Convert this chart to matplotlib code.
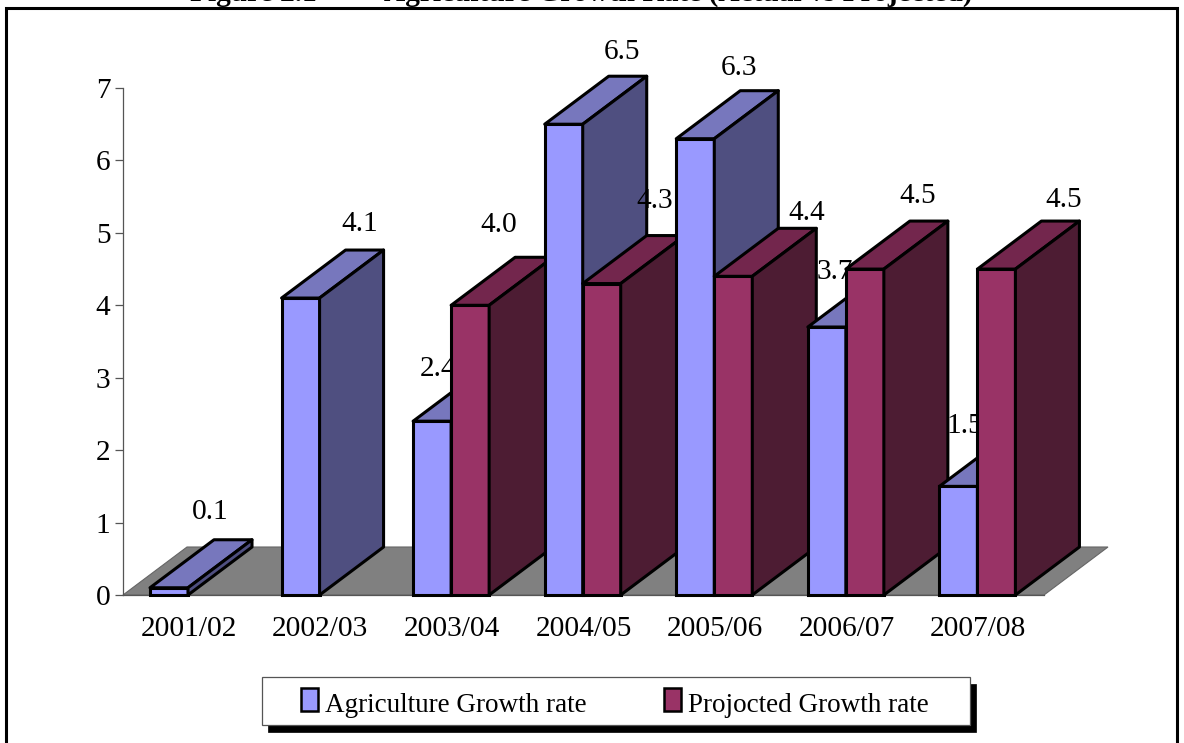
import matplotlib
matplotlib.use("Agg")
import matplotlib.pyplot as plt
from matplotlib.patches import Rectangle

# values
years = ["2001/02", "2002/03", "2003/04", "2004/05", "2005/06", "2006/07", "2007/08"]
agri = [0.1, 4.1, 2.4, 6.5, 6.3, 3.7, 1.5]
proj = [None, None, 4.0, 4.3, 4.4, 4.5, 4.5]

# label nudges from the bar's front top-left corner, in pixels
agri_nudge = [(60, 76), (78, 74), (25, 52), (77, 72), (63, 71), (27, 55), (25, 60)]
proj_nudge = [None, None, (48, 80), (72, 83), (92, 63), (72, 73), (86, 69)]

W, H = 1184, 743
serif = "Liberation Serif"
plt.rcParams['font.family'] = serif

blue = ("#9999FF", "#7777BD", "#4F4F80")
red = ("#993366", "#73264D", "#4D1C33")
fs = 21.2

fig = plt.figure(figsize=(W/100, H/100), dpi=100)
ax = fig.add_axes([123/W, (H-595)/H, 921/W, 507/H])
ax.set_xlim(0, 7)
ax.set_ylim(0, 7)

# pixels per data unit
px = 921/7
py = 507/7
dx = 64/px
dy = 48/py
bar_w = 38/px
first = 27/px


def draw_bar(x, v, cols, z):
    ax.bar(x, v, bar_w, align='edge', color=cols[0], edgecolor='black', linewidth=2.2, zorder=z, clip_on=False)
    ax.fill([x, x+dx, x+dx+bar_w, x+bar_w], [v, v+dy, v+dy, v], fc=cols[1], ec='black', lw=2.2,
            zorder=z, clip_on=False, joinstyle='round')
    ax.fill([x+bar_w, x+bar_w+dx, x+bar_w+dx, x+bar_w], [0, dy, v+dy, v], fc=cols[2], ec='black', lw=2.2,
            zorder=z, clip_on=False, joinstyle='round')


def draw_label(x, v, nudge, z):
    ax.text(x+nudge[0]/px, v+nudge[1]/py, "%.1f" % v, ha='center', va='center', fontsize=fs, zorder=z, clip_on=False)


# floor
ax.fill([0, dx, 7+dx, 7], [0, dy, dy, 0], fc="#808080", ec="#666666", lw=0.8, zorder=1, clip_on=False)

z = 3
for i in range(len(years)):
    x = i + first
    draw_bar(x, agri[i], blue, z)
    draw_label(x, agri[i], agri_nudge[i], z+1)
    z += 2
    if proj[i] is not None:
        x2 = x + bar_w
        draw_bar(x2, proj[i], red, z)
        draw_label(x2, proj[i], proj_nudge[i], z+1)
        z += 2

ax.patch.set_visible(False)
for s in ['top', 'right']:
    ax.spines[s].set_visible(False)
ax.spines['left'].set_color("#555555")
ax.spines['bottom'].set_color("#555555")
ax.spines['left'].set_linewidth(0.9)
ax.spines['bottom'].set_linewidth(0.9)
ax.spines['bottom'].set_zorder(2)
ax.set_xticks([i+0.5 for i in range(7)])
ax.set_xticklabels(years, fontsize=fs)
ax.set_yticks(range(8))
ax.tick_params(axis='y', labelsize=fs, length=6, width=0.9, color="#555555", pad=3)
ax.tick_params(axis='x', length=0, pad=15)

# outer frame, runs off the bottom of the picture
fig.add_artist(Rectangle((6/W, -0.02), 1171/W, 1.02-8/H, fc='none', ec='black', lw=2.2, transform=fig.transFigure))

# title is two pieces with a tab gap, cut by the top edge like the source scan
fig.text(190/W, 1-1/H, "Figure 2.1", ha='left', va='baseline', fontsize=21.2, fontweight='bold')
fig.text(972/W, 1-1/H, "Agriculture Growth Rate (Actual vs Projected)", ha='right', va='baseline',
         fontsize=21.2, fontweight='bold')

# legend box drawn by hand for the hard shadow
fig.add_artist(Rectangle((268/W, 1-732/H), 708/W, 48/H, fc='black', ec='black', lw=0.5, transform=fig.transFigure))
fig.add_artist(Rectangle((262/W, 1-725/H), 708/W, 48/H, fc='white', ec='#555555', lw=0.9, transform=fig.transFigure))
legend_names = ["Agriculture Growth rate", "Projocted Growth rate"]
for name, col, bx in zip(legend_names, [blue[0], red[0]], [301, 664]):
    fig.add_artist(Rectangle((bx/W, 1-711/H), 17/W, 23/H, fc=col, ec='black', lw=1.8, transform=fig.transFigure))
    fig.text((bx+24)/W, 1-702/H, name, ha='left', va='center_baseline', fontsize=19.5)

fig.savefig("out.png", dpi=100)
